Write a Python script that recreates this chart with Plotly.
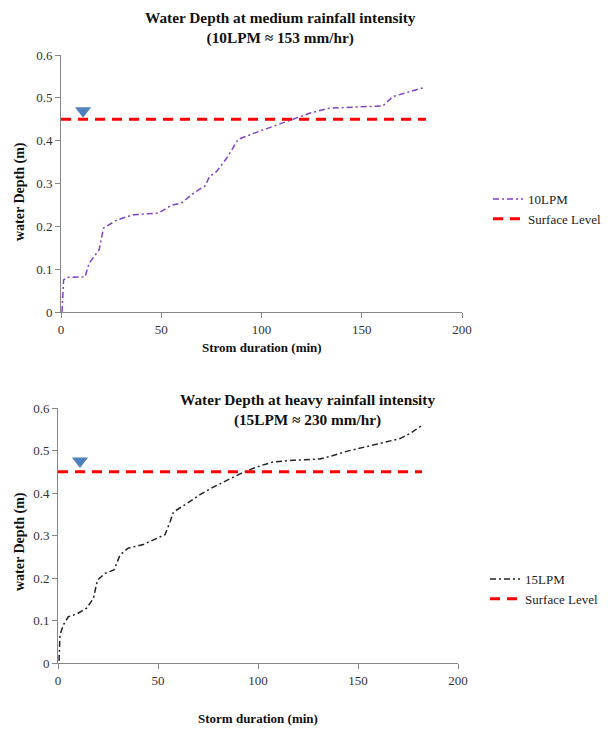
import plotly.graph_objects as go

# ---- Data: medium rainfall (10 LPM) ----
t10 = [0.5, 1.3, 3, 12, 14, 19, 21.2, 28, 36, 48.6, 55, 60, 66, 72, 74, 77.6, 82.6, 88.4,
       96, 104, 111, 116.6, 124, 134, 142, 155.6, 160.5, 165.5, 172, 181]
d10 = [0.0, 0.075, 0.081, 0.082, 0.114, 0.145, 0.196, 0.215, 0.227, 0.231, 0.249, 0.254,
       0.277, 0.295, 0.316, 0.328, 0.359, 0.403, 0.417, 0.430, 0.443, 0.451, 0.464, 0.476,
       0.477, 0.479, 0.481, 0.503, 0.512, 0.524]

# ---- Data: heavy rainfall (15 LPM) ----
t15 = [0.5, 1, 2.7, 5.2, 9.3, 14.3, 17.7, 19.7, 23.5, 28, 31, 35, 42.7, 48.5, 53.5, 56, 57.7,
       64.3, 71, 77.7, 84.3, 91, 96, 101.8, 107.7, 117.7, 131, 136, 144.3, 156, 164.3, 171,
       176, 182]
d15 = [0.005, 0.066, 0.09, 0.109, 0.115, 0.129, 0.152, 0.195, 0.211, 0.219, 0.254, 0.27,
       0.279, 0.291, 0.302, 0.332, 0.355, 0.375, 0.396, 0.414, 0.43, 0.445, 0.455, 0.465,
       0.473, 0.477, 0.48, 0.486, 0.498, 0.511, 0.519, 0.528, 0.54, 0.559]

# ---- Surface level & water-level symbol ----
surf_x = [0, 182]
surf_y = [0.45, 0.45]
mark_x = [11]
mark_y1 = [0.47]
mark_y2 = [0.475]

y_ticks = [0, 0.1, 0.2, 0.3, 0.4, 0.5, 0.6]
y_tick_text = ["0", "0.1", "0.2", "0.3", "0.4", "0.5", "0.6"]
x_ticks = [0, 50, 100, 150, 200]

SERIF = "Liberation Serif"
# The page body has an 8px margin, so the figure is 600x720 placed at (8, 8)
OFF = 8
W, H = 616 - 2 * OFF, 736 - 2 * OFF


def px(x):
    return (x - OFF) / W


def py(y):
    return 1 - (y - OFF) / H


fig = go.Figure()

# Top chart
fig.add_trace(go.Scatter(x=t10, y=d10, mode="lines", name="10LPM",
                         line=dict(color="#8040C8", width=1.5, dash="6px,3px,2px,3px"),
                         xaxis="x", yaxis="y", legend="legend"))
fig.add_trace(go.Scatter(x=surf_x, y=surf_y, mode="lines", name="Surface Level",
                         line=dict(color="#FF0000", width=3, dash="10px,7px"),
                         xaxis="x", yaxis="y", legend="legend"))
fig.add_trace(go.Scatter(x=mark_x, y=mark_y1, mode="markers", showlegend=False,
                         marker=dict(symbol="triangle-down", size=14, color="#4F81BD"),
                         xaxis="x", yaxis="y"))

# Bottom chart
fig.add_trace(go.Scatter(x=t15, y=d15, mode="lines", name="15LPM",
                         line=dict(color="#222222", width=1.5, dash="6px,3px,2px,3px"),
                         xaxis="x2", yaxis="y2", legend="legend2"))
fig.add_trace(go.Scatter(x=surf_x, y=surf_y, mode="lines", name="Surface Level",
                         line=dict(color="#FF0000", width=3, dash="10px,7px"),
                         xaxis="x2", yaxis="y2", legend="legend2"))
fig.add_trace(go.Scatter(x=mark_x, y=mark_y2, mode="markers", showlegend=False,
                         marker=dict(symbol="triangle-down", size=14, color="#4F81BD"),
                         xaxis="x2", yaxis="y2"))

axis_common = dict(showgrid=False, zeroline=False, showline=True, linecolor="#878787",
                   linewidth=1, ticks="outside", ticklen=5, tickcolor="#878787",
                   automargin=False,
                   tickfont=dict(family=SERIF, size=13, color="#333333"))

fig.update_layout(
    width=W, height=H,
    margin=dict(l=0, r=0, t=0, b=0, autoexpand=False),
    paper_bgcolor="white", plot_bgcolor="white",
    font=dict(family=SERIF, color="#222222"),
    xaxis=dict(domain=[px(61), px(462)], range=[0, 200], tickvals=x_ticks,
               anchor="y", **axis_common),
    yaxis=dict(domain=[py(312), py(55)], range=[0, 0.6], tickvals=y_ticks,
               ticktext=y_tick_text, anchor="x", **axis_common),
    xaxis2=dict(domain=[px(58), px(458)], range=[0, 200], tickvals=x_ticks,
                anchor="y2", **axis_common),
    yaxis2=dict(domain=[py(663), py(408)], range=[0, 0.6], tickvals=y_ticks,
                ticktext=y_tick_text, anchor="x2", **axis_common),
    legend=dict(x=px(488), y=py(184), xanchor="left", yanchor="top",
                font=dict(family=SERIF, size=13, color="#222222"),
                bgcolor="rgba(0,0,0,0)", tracegroupgap=0, itemwidth=30),
    legend2=dict(x=px(485), y=py(564), xanchor="left", yanchor="top",
                 font=dict(family=SERIF, size=13, color="#222222"),
                 bgcolor="rgba(0,0,0,0)", tracegroupgap=0, itemwidth=30),
    showlegend=True,
)

annots = [
    dict(text="<b>Water Depth at medium rainfall intensity<br>(10LPM ≈ 153 mm/hr)</b>",
         x=px(280), y=py(7), font=dict(size=15.3)),
    dict(text="<b>Water Depth at heavy rainfall intensity<br>(15LPM ≈ 230 mm/hr)</b>",
         x=px(307), y=py(389), font=dict(size=15.3)),
    dict(text="<b>Strom duration (min)</b>", x=px(262), y=py(347), yanchor="middle",
         font=dict(size=13)),
    dict(text="<b>Storm duration (min)</b>", x=px(258), y=py(718), yanchor="middle",
         font=dict(size=13)),
    dict(text="<b>water Depth (m)</b>", x=px(20), y=py(192), yanchor="middle",
         textangle=-90, font=dict(size=14)),
    dict(text="<b>water Depth (m)</b>", x=px(20), y=py(542), yanchor="middle",
         textangle=-90, font=dict(size=14)),
]
for a in annots:
    a.setdefault("yanchor", "top")
    fig.add_annotation(xref="paper", yref="paper", showarrow=False, xanchor="center", **a)
    fig.layout.annotations[-1].font.family = SERIF
    fig.layout.annotations[-1].font.color = "#111111"

fig.write_html("out.html")
